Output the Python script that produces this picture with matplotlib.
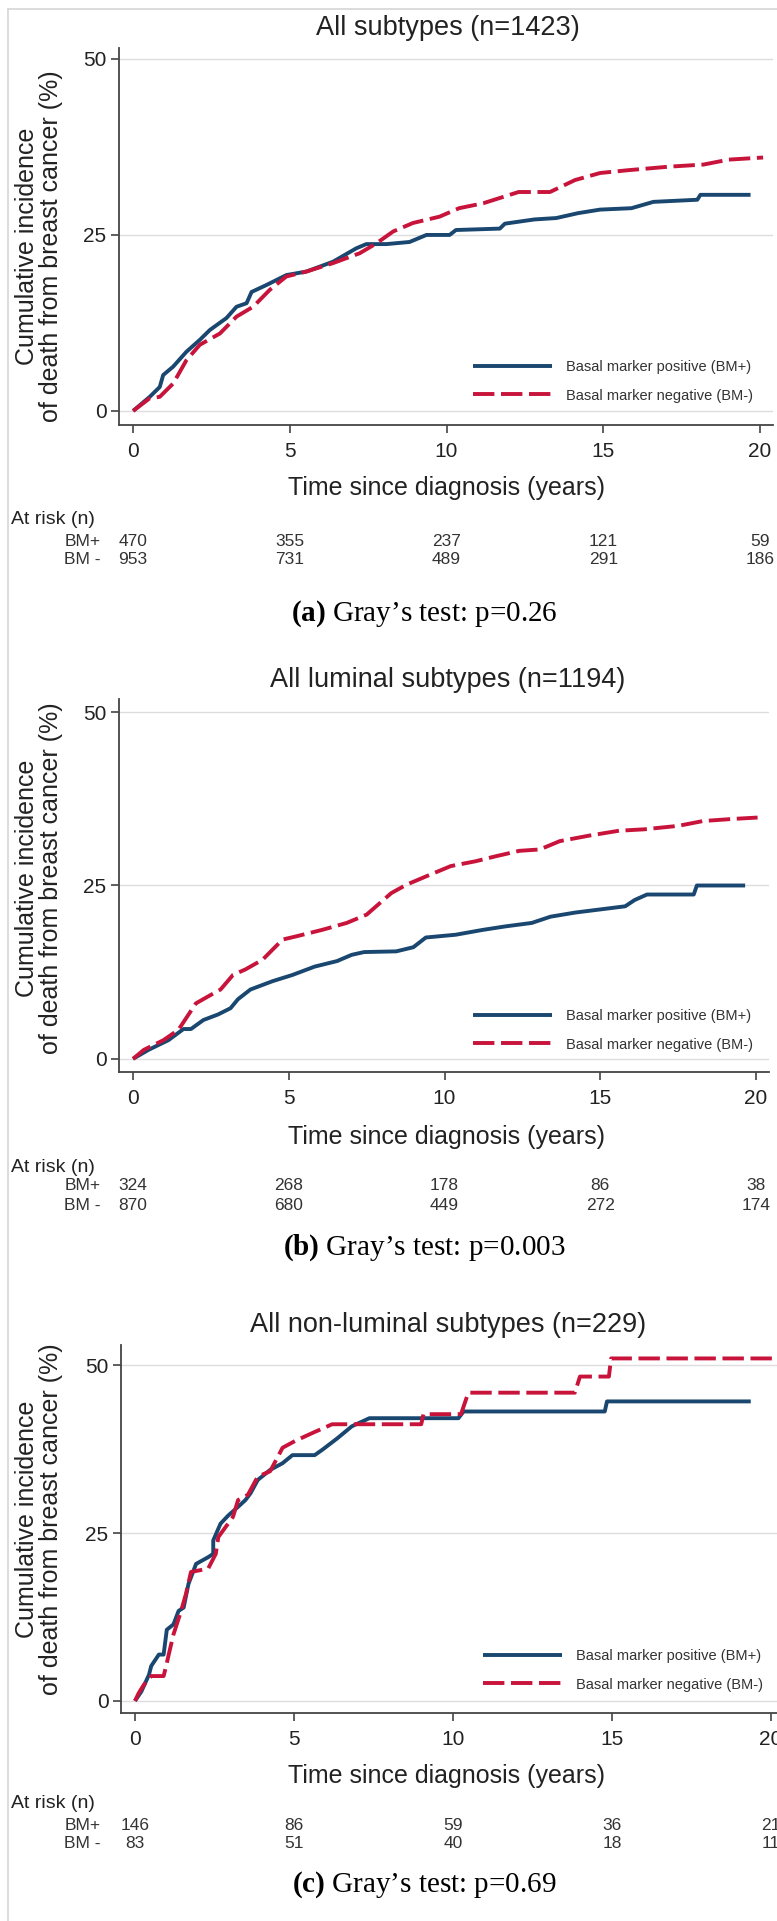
import matplotlib
matplotlib.use("Agg")
import matplotlib.pyplot as plt
from matplotlib.lines import Line2D
from matplotlib import font_manager

# ----------------------------------------------------------------------------
# data (years, cumulative incidence %)
# ----------------------------------------------------------------------------
titles = ["All subtypes (n=1423)",
          "All luminal subtypes (n=1194)",
          "All non-luminal subtypes (n=229)"]
panel_tags = ["a", "b", "c"]
p_values = ["0.26", "0.003", "0.69"]
series_labels = ["Basal marker positive (BM+)", "Basal marker negative (BM-)"]

risk_times = [0, 5, 10, 15, 20]
a_risk_pos = [470, 355, 237, 121, 59]
a_risk_neg = [953, 731, 489, 291, 186]
b_risk_pos = [324, 268, 178, 86, 38]
b_risk_neg = [870, 680, 449, 272, 174]
c_risk_pos = [146, 86, 59, 36, 21]
c_risk_neg = [83, 51, 40, 18, 11]

a_pos_t = [0, 0.53, 0.85, 0.96, 1.28, 1.7, 2.13, 2.45, 2.98, 3.3, 3.62, 3.78, 4.26,
           4.89, 5.53, 6.38, 7.12, 7.44, 8.08, 8.82, 9.36, 10.1, 10.3, 11.7, 11.86,
           12.8, 13.5, 14.2, 14.9, 15.9, 16.6, 18.0, 18.1, 19.7]
a_pos_ci = [0, 2.0, 3.4, 5.1, 6.3, 8.4, 10.1, 11.5, 13.2, 14.8, 15.3, 16.9, 17.9,
            19.3, 19.8, 21.2, 23.1, 23.7, 23.7, 24.0, 25.0, 25.0, 25.7, 25.9, 26.6,
            27.2, 27.4, 28.1, 28.6, 28.8, 29.7, 30.0, 30.7, 30.7]
a_neg_t = [0, 0.53, 0.85, 1.28, 1.7, 2.13, 2.77, 3.3, 3.83, 4.36, 4.89, 5.53, 6.38,
           7.23, 7.76, 8.3, 8.93, 9.78, 10.4, 11.17, 12.3, 13.3, 14.1, 14.9, 15.8,
           17.1, 18.2, 19.0, 20.1]
a_neg_ci = [0, 1.8, 2.0, 3.9, 7.2, 9.4, 11.0, 13.4, 14.8, 17.2, 19.1, 19.8, 21.0,
            22.4, 23.8, 25.5, 26.7, 27.6, 28.8, 29.5, 31.1, 31.1, 32.8, 33.8, 34.2,
            34.7, 35.0, 35.7, 36.0]

b_pos_t = [0, 0.5, 1.14, 1.62, 1.86, 2.26, 2.73, 3.13, 3.37, 3.77, 4.48, 5.12, 5.83,
           6.55, 7.02, 7.42, 8.45, 9.0, 9.4, 10.36, 11.23, 11.95, 12.8, 13.4, 14.2,
           15.8, 16.1, 16.5, 18.0, 18.1, 19.65]
b_pos_ci = [0, 1.3, 2.7, 4.3, 4.3, 5.6, 6.4, 7.3, 8.6, 10.0, 11.2, 12.1, 13.3,
            14.1, 15.0, 15.4, 15.5, 16.1, 17.5, 17.9, 18.6, 19.1, 19.6, 20.5, 21.1,
            22.0, 22.9, 23.7, 23.7, 25.0, 25.0]
b_neg_t = [0, 0.35, 0.98, 1.46, 2.02, 2.41, 2.81, 3.21, 3.61, 4.16, 4.8, 5.27, 6.07,
           6.86, 7.5, 8.29, 8.77, 9.4, 10.2, 11.0, 11.63, 12.4, 13.06, 13.7, 14.65,
           15.6, 16.4, 17.5, 18.3, 19.25, 20.05]
b_neg_ci = [0, 1.3, 2.7, 4.2, 8.0, 9.0, 10.0, 12.1, 12.9, 14.3, 17.2, 17.7, 18.6,
            19.6, 20.8, 23.9, 25.1, 26.3, 27.8, 28.5, 29.2, 30.0, 30.2, 31.4, 32.2,
            32.9, 33.1, 33.6, 34.3, 34.6, 34.8]

c_pos_t = [0, 0.2, 0.44, 0.51, 0.75, 0.9, 1.0, 1.21, 1.37, 1.53, 1.68, 1.92, 2.3,
           2.46, 2.46, 2.69, 2.93, 3.24, 3.47, 3.63, 3.86, 4.25, 4.64, 4.95, 5.65,
           5.89, 6.36, 6.82, 7.37, 10.17, 10.33, 14.77, 14.84, 19.36]
c_pos_ci = [0, 1.4, 3.9, 5.2, 6.9, 6.9, 10.6, 11.4, 13.4, 13.9, 17.4, 20.4, 21.4,
            21.9, 23.9, 26.4, 27.6, 28.9, 29.9, 30.9, 32.9, 34.4, 35.4, 36.6, 36.6,
            37.4, 39.1, 40.9, 42.1, 42.1, 43.1, 43.1, 44.6, 44.6]
c_neg_t = [0, 0.12, 0.28, 0.51, 0.9, 0.98, 1.06, 1.21, 1.45, 1.6, 1.76, 2.3, 2.54,
           2.62, 2.85, 3.08, 3.24, 3.55, 3.86, 4.25, 4.64, 5.03, 5.58, 6.2, 9.0,
           9.07, 10.25, 10.48, 13.83, 13.99, 14.9, 14.97, 20.2]
c_neg_ci = [0, 1.2, 2.4, 3.7, 3.7, 5.2, 6.9, 9.9, 13.4, 15.9, 19.2, 19.7, 21.9,
            24.4, 25.9, 27.4, 29.9, 30.7, 33.4, 34.2, 37.7, 38.7, 39.9, 41.2, 41.2,
            42.7, 42.7, 45.9, 45.9, 48.3, 48.3, 51.0, 51.0]

# ----------------------------------------------------------------------------
# layout (figure pixels, measured from the reference)
# ----------------------------------------------------------------------------
W, H = 777, 1921
BLUE = "#1a476f"
RED = "#c8133b"
TXT = "#222222"

# Stata exports use a narrow sans for the small text; use it if installed
installed = {f.name for f in font_manager.fontManager.ttflist}
NARROW = "Liberation Sans Narrow" if "Liberation Sans Narrow" in installed else "Liberation Sans"

plt.rcParams["font.family"] = ["Liberation Sans", "DejaVu Sans"]
plt.rcParams["mathtext.fontset"] = "custom"
plt.rcParams["mathtext.rm"] = "Liberation Serif"
plt.rcParams["mathtext.bf"] = "Liberation Serif:bold"

fig = plt.figure(figsize=(W / 100, H / 100), dpi=100)
fig.patch.set_facecolor("white")

# light frame on the left/top edge of the scanned figure
fig.add_artist(Line2D([8 / W, 8 / W], [0, 1 - 9 / H], transform=fig.transFigure,
                      color="#d6d6d6", lw=1.2))
fig.add_artist(Line2D([8 / W, 1], [1 - 9 / H, 1 - 9 / H], transform=fig.transFigure,
                      color="#d6d6d6", lw=1.2))

panels = [
    dict(box=(119, 772.5, 47.7, 425), xlim=(-0.45, 20.4), ylim=(-2.0, 51.6),
         pos=(a_pos_t, a_pos_ci), neg=(a_neg_t, a_neg_ci),
         risk=(a_risk_pos, a_risk_neg), title_y=28, xlab_y=488, ylab_y=246,
         risk_y=(519, 541, 559), cap_y=614, leg=(473, 360)),
    dict(box=(119, 768.5, 699, 1072), xlim=(-0.45, 20.4), ylim=(-1.9, 51.9),
         pos=(b_pos_t, b_pos_ci), neg=(b_neg_t, b_neg_ci),
         risk=(b_risk_pos, b_risk_neg), title_y=680, xlab_y=1137, ylab_y=878,
         risk_y=(1167, 1186, 1205), cap_y=1248, leg=(473, 1009)),
    dict(box=(121, 787, 1345, 1713), xlim=(-0.44, 20.5), ylim=(-1.8, 53.0),
         pos=(c_pos_t, c_pos_ci), neg=(c_neg_t, c_neg_ci),
         risk=(c_risk_pos, c_risk_neg), title_y=1325, xlab_y=1776, ylab_y=1519,
         risk_y=(1803, 1825, 1843), cap_y=1885, leg=(483, 1649)),
]


def fx(x):
    return x / W


def fy(y):
    return 1 - y / H


for i, p in enumerate(panels):
    l, r, t, b = p["box"]
    ax = fig.add_axes([fx(l), fy(b), (r - l) / W, (b - t) / H])
    ax.set_facecolor("white")
    ax.set_xlim(*p["xlim"])
    ax.set_ylim(*p["ylim"])

    ax.plot(p["pos"][0], p["pos"][1], color=BLUE, lw=2.8,
            solid_capstyle="butt", label=series_labels[0], zorder=3)
    ax.plot(p["neg"][0], p["neg"][1], color=RED, lw=2.8,
            linestyle=(0, (5.5, 1.7)), dash_capstyle="butt",
            label=series_labels[1], zorder=4)

    ax.set_yticks([0, 25, 50])
    ax.set_xticks([0, 5, 10, 15, 20])
    ax.grid(axis="y", color="#dddddd", lw=1.0)
    ax.set_axisbelow(True)
    for s in ["top", "right"]:
        ax.spines[s].set_visible(False)
    for s in ["left", "bottom"]:
        ax.spines[s].set_color("#444444")
        ax.spines[s].set_linewidth(1.3)
    ax.tick_params(axis="both", direction="out", length=6, width=1.2,
                   color="#444444", labelsize=15, labelcolor=TXT)
    ax.tick_params(axis="x", pad=6)
    ax.tick_params(axis="y", pad=3)
    for lab in ax.get_xticklabels() + ax.get_yticklabels():
        lab.set_family(NARROW)

    leg = ax.legend(loc="upper left", bbox_to_anchor=(fx(p["leg"][0]), fy(p["leg"][1])),
                    bbox_transform=fig.transFigure, frameon=False,
                    prop={"family": NARROW, "size": 10.5},
                    handlelength=5.4, handletextpad=1.0, labelspacing=1.0,
                    borderpad=0, borderaxespad=0)
    for txt in leg.get_texts():
        txt.set_color("#333333")

    fig.text(fx(448), fy(p["title_y"]), titles[i], ha="center", va="center",
             fontsize=19.5, color=TXT)
    fig.text(fx(446), fy(p["xlab_y"]), "Time since diagnosis (years)",
             ha="center", va="center", fontsize=18, color=TXT)
    fig.text(fx(39), fy(p["ylab_y"]),
             "Cumulative incidence\nof death from breast cancer (%)",
             rotation=90, ha="center", va="center", fontsize=18,
             linespacing=0.95, color=TXT)

    # number at risk table, numbers placed on the data x positions
    ry, ry_pos, ry_neg = p["risk_y"]
    fig.text(fx(11), fy(ry), "At risk (n)", ha="left", va="center",
             fontsize=14, color=TXT, family=NARROW)
    fig.text(fx(101), fy(ry_pos), "BM+", ha="right", va="center",
             fontsize=12.5, color="#333333", family=NARROW)
    fig.text(fx(101), fy(ry_neg), "BM -", ha="right", va="center",
             fontsize=12.5, color="#333333", family=NARROW)
    trans = matplotlib.transforms.blended_transform_factory(ax.transData, fig.transFigure)
    for tt, npos, nneg in zip(risk_times, p["risk"][0], p["risk"][1]):
        ax.text(tt, fy(ry_pos), str(npos), transform=trans, ha="center",
                va="center", fontsize=12.5, color="#333333", clip_on=False,
                family=NARROW)
        ax.text(tt, fy(ry_neg), str(nneg), transform=trans, ha="center",
                va="center", fontsize=12.5, color="#333333", clip_on=False,
                family=NARROW)

    fig.text(fx(424), fy(p["cap_y"]),
             r"$\mathbf{(%s)}$" % panel_tags[i] + " Gray\u2019s test: p=" + p_values[i],
             ha="center", va="center", fontsize=21, color="black",
             family=["Liberation Serif", "DejaVu Serif"])

fig.savefig("out.png", dpi=100, facecolor="white")
